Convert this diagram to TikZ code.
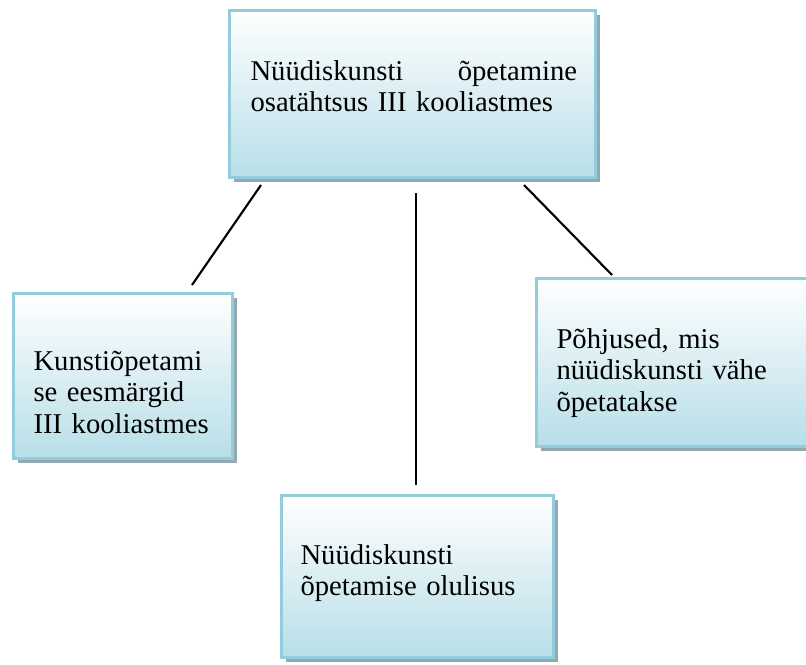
\documentclass[tikz,border=0pt]{standalone}
\usepackage{fontspec}
\setmainfont{Liberation Serif}
\usetikzlibrary{calc,shadows}
\definecolor{boxborder}{HTML}{93CDDD}
\definecolor{boxfill}{HTML}{B7DEE8}
\definecolor{boxshadow}{HTML}{93A9B0}
\begin{document}
\begin{tikzpicture}[x=0.75pt, y=-0.75pt, thick,
		main node/.style={rectangle, draw=boxborder, line width=2.25pt, inner sep=0pt, outer sep=0pt,
			top color=white, bottom color=boxfill, anchor=north west,
			drop shadow={shadow xshift=3.4pt, shadow yshift=-3.4pt, fill=boxshadow, opacity=1}},
		main text/.style={anchor=base west, inner sep=0pt, align=left, text width=200pt,
			font=\fontsize{21.5pt}{23.5pt}\selectfont}]
		
		\useasboundingbox (0,0) rectangle (806,664);
		\clip (0,0) rectangle (806,664);
		
		\node[main node, minimum width=274.5pt, minimum height=125.25pt] (main) at (229.5,10.5) {};
		\node[main node, minimum width=164.25pt, minimum height=123.75pt] (goal) at (13.5,293.5) {};
		\node[main node, minimum width=210pt, minimum height=126pt] (reason) at (536.5,278.5) {};
		\node[main node, minimum width=204pt, minimum height=121.5pt] (value) at (281.5,495.5) {};
		
		\node[main text, text width=245pt] (main text) at (250,80)
		{Nüüdiskunsti \hfill õpetamine\\osatähtsus III kooliastmes};
		\node[main text] (goal text) at (33,370.5) {Kunstiõpetami\\se eesmärgid\\III kooliastmes};
		\node[main text] (reason text) at (556,348.5) {Põhjused, mis\\nüüdiskunsti vähe\\õpetatakse};
		\node[main text] (value text) at (300,564) {Nüüdiskunsti\\õpetamise olulisus};
		
		\coordinate (main-goal) at (261,185);
		\coordinate (goal-main) at (192,285);
		\coordinate (main-value) at (416,193);
		\coordinate (value-main) at (416,485);
		\coordinate (main-reason) at (524,185);
		\coordinate (reason-main) at (612,275);
		
		\draw[line width=1.6pt] (main-goal) -- (goal-main);
		\draw[line width=1.6pt] (main-value) -- (value-main);
		\draw[line width=1.6pt] (main-reason) -- (reason-main);
		\end{tikzpicture}
\end{document}
